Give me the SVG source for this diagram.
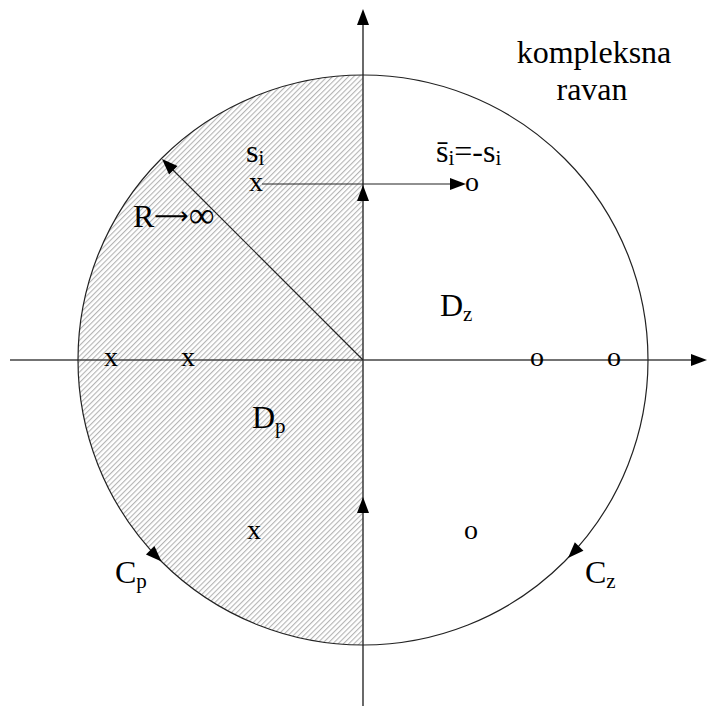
<svg xmlns="http://www.w3.org/2000/svg" xmlns:xlink="http://www.w3.org/1999/xlink" width="707" height="708" viewBox="0 0 707 708">
<style>
text{font-family:"Liberation Serif","Times New Roman",serif;fill:#000}
.lbl{font-size:32px}
.sub{font-size:21px}
.mk{font-size:28px;text-anchor:middle}
.ax{stroke:#444;stroke-width:1.6;fill:none}
.ln{stroke:#222;stroke-width:1.2;fill:none}
</style>
<defs>
<pattern id="hatch" patternUnits="userSpaceOnUse" width="3.75" height="10" patternTransform="rotate(45)">
<line x1="0.6" y1="0" x2="0.6" y2="10" stroke="#ababab" stroke-width="1"/>
</pattern>
<clipPath id="half"><path d="M363,75 A285,285 0 0 0 363,645 Z"/></clipPath>
<polygon id="ah" points="0,0 -16,-6 -16,6" fill="#000"/>
</defs>
<g id="shading"><rect x="70" y="70" width="295" height="580" fill="url(#hatch)" clip-path="url(#half)"/></g>
<g id="connectors">
<line class="ax" x1="363" y1="20" x2="363" y2="706"/>
<line class="ax" x1="10" y1="360" x2="696" y2="360"/>
<circle class="ln" cx="363" cy="360" r="285"/>
<line class="ln" x1="363" y1="360" x2="168" y2="165"/>
<line class="ln" x1="262" y1="184" x2="455" y2="184"/>
<use xlink:href="#ah" transform="translate(363,9) rotate(-90)"/>
<use xlink:href="#ah" transform="translate(707,360)"/>
<use xlink:href="#ah" transform="translate(363,185) rotate(-90)"/>
<use xlink:href="#ah" transform="translate(363,497) rotate(-90)"/>
<use xlink:href="#ah" transform="translate(162,159) rotate(-135)"/>
<use xlink:href="#ah" transform="translate(466,184)"/>
<use xlink:href="#ah" transform="translate(161.5,561.5) rotate(45)"/>
<use xlink:href="#ah" transform="translate(568,558) rotate(134)"/>
</g>
<g id="poles">
<text class="mk" x="111" y="366">x</text>
<text class="mk" x="188" y="366">x</text>
<text class="mk" x="254" y="539">x</text>
<text class="mk" x="256" y="191">x</text>
</g>
<g id="zeros">
<text class="mk" x="537" y="366">o</text>
<text class="mk" x="614" y="366">o</text>
<text class="mk" x="471" y="539">o</text>
<text class="mk" x="472" y="191">o</text>
</g>
<g id="labels">
<text class="lbl" x="594" y="63" text-anchor="middle">kompleksna</text>
<text class="lbl" x="592" y="100" text-anchor="middle">ravan</text>
<text class="lbl" x="246" y="162">s<tspan class="sub" dy="3">i</tspan></text>
<text class="lbl" x="436" y="162">s̄<tspan class="sub" dy="3">i</tspan><tspan dy="-3">=-s</tspan><tspan class="sub" dy="3">i</tspan></text>
<text class="lbl" x="133" y="227">R<tspan style="font-family:'DejaVu Sans',sans-serif;font-size:24px" dy="-3">⟶</tspan><tspan style="font-size:36px" dy="3">∞</tspan></text>
<text class="lbl" x="440" y="316">D<tspan class="sub" dy="5">z</tspan></text>
<text class="lbl" x="252" y="428">D<tspan class="sub" dy="5">p</tspan></text>
<text class="lbl" x="115" y="583">C<tspan class="sub" dy="5">p</tspan></text>
<text class="lbl" x="585" y="583">C<tspan class="sub" dy="5">z</tspan></text>
</g>
</svg>
